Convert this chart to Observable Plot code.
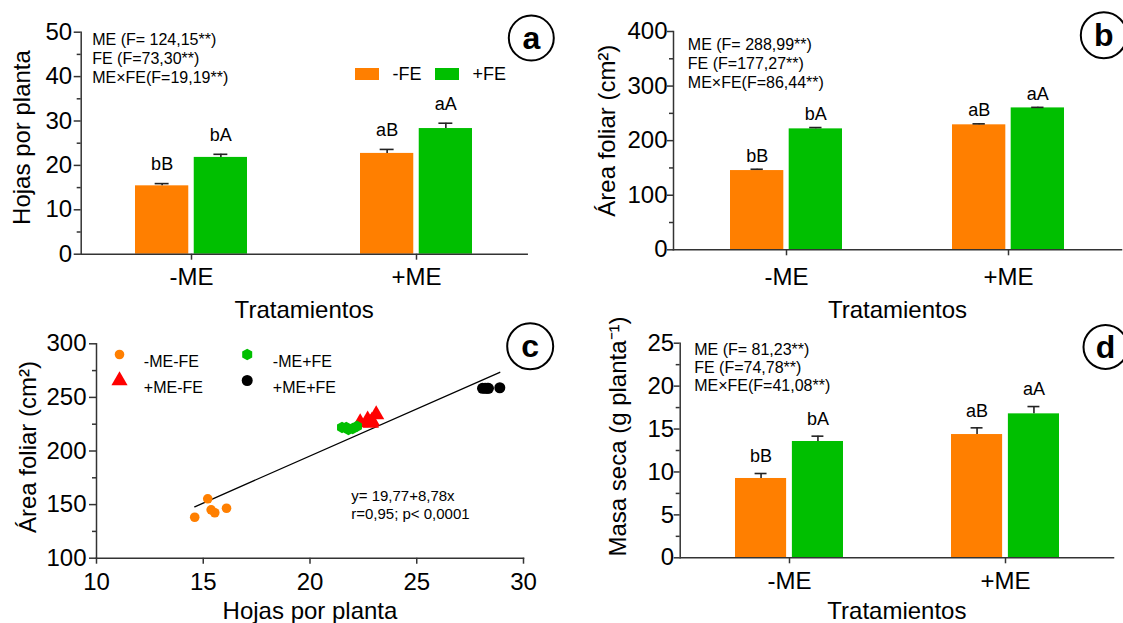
<!DOCTYPE html>
<html>
<head>
<meta charset="utf-8">
<script src="https://cdn.jsdelivr.net/npm/d3@7"></script>
<script src="https://cdn.jsdelivr.net/npm/@observablehq/plot@0.6"></script>
<style>
  html, body { margin: 0; padding: 0; background: #fff; }
  #root { position: relative; width: 1123px; height: 623px; overflow: hidden; background: #fff; font-family: "Liberation Sans", Arial, sans-serif; }
  #root svg { position: absolute; overflow: visible; }
  .lg { position: absolute; font-size: 18px; line-height: 18px; color: #000; white-space: nowrap; }
  .sw { position: absolute; width: 24px; height: 12px; }
</style>
</head>
<body>
<div id="root"></div>
<script>
// ---------------- data ----------------
const treatments = ["-ME", "+ME"];
const seriesNames = ["-FE", "+FE"];

// (a) Hojas por planta
const hojasMinusFE = [15.4, 22.7];
const hojasMinusFEse = [0.5, 0.9];
const hojasPlusFE = [21.8, 28.3];
const hojasPlusFEse = [0.7, 1.2];
const hojasStats = ["ME (F= 124,15**)", "FE (F=73,30**)", "ME×FE(F=19,19**)"];

// (b) Área foliar
const areaMinusFE = [145.2, 229.0];
const areaMinusFEse = [2.4, 1.8];
const areaPlusFE = [221.6, 260.0];
const areaPlusFEse = [2.4, 1.0];
const areaStats = ["ME (F= 288,99**)", "FE (F=177,27**)", "ME×FE(F=86,44**)"];

// (d) Masa seca
const masaMinusFE = [9.24, 14.36];
const masaMinusFEse = [0.58, 0.78];
const masaPlusFE = [13.55, 16.77];
const masaPlusFEse = [0.62, 0.85];
const masaStats = ["ME (F= 81,23**)", "FE (F=74,78**)", "ME×FE(F=41,08**)"];

// letters (same in a, b, d)
const lettersMinusFE = ["bB", "aB"];
const lettersPlusFE = ["bA", "aA"];

// (c) scatter: Hojas por planta vs Área foliar
const scatterNames = ["-ME-FE", "+ME-FE", "-ME+FE", "+ME+FE"];
const meMfeX = [14.6, 15.21, 15.37, 15.54, 16.09];
const meMfeY = [138.2, 155.4, 145.1, 142.4, 146.6];
const pmeMfeX = [22.35, 22.7, 22.85, 22.9, 23.1];
const pmeMfeY = [226.5, 229, 226, 228, 234];
const mePfeX = [21.5, 21.7, 21.8, 22.0, 22.2];
const mePfeY = [222, 222, 220, 221, 223];
const pmePfeX = [28.08, 28.2, 28.3, 28.36, 28.89];
const pmePfeY = [258.5, 258.5, 258.5, 258.5, 259];
const regression = [19.77, 8.78]; // intercept, slope
const regressionText = ["y= 19,77+8,78x", "r=0,95; p< 0,0001"];

const ticksA = [0, 10, 20, 30, 40, 50], minorA = [5, 15, 25, 35, 45];
const ticksB = [0, 100, 200, 300, 400], minorB = [50, 150, 250, 350];
const ticksD = [0, 5, 10, 15, 20, 25], minorD = [2.5, 7.5, 12.5, 17.5, 22.5];
const ticksCx = [10, 15, 20, 25, 30];
const ticksCy = [100, 150, 200, 250, 300], minorCy = [125, 175, 225, 275];

// ---------------- styles ----------------
const FONT = "'Liberation Sans', Arial, sans-serif";
const ORANGE = "#ff7f00", GREEN = "#00bf00", RED = "#ff0000", BLACK = "#000000";
const AX = "#333";

const root = document.getElementById("root");

function place(svg, left, top) {
  svg.style.left = left + "px";
  svg.style.top = top + "px";
  root.appendChild(svg);
}

function barPanel(o) {
  const table = treatments.map((t, i) => ({
    t, minus: o.minus[i], minusTop: o.minus[i] + o.minusSe[i],
    plus: o.plus[i], plusTop: o.plus[i] + o.plusSe[i],
    lm: lettersMinusFE[i], lp: lettersPlusFE[i]
  }));
  const pw = o.width - o.ml - o.mr;
  const step = pw / (treatments.length - o.padIn + 2 * o.padOut);
  const bw = step * (1 - o.padIn);
  const inset = (bw + o.gap) / 2;
  const off = (bw + o.gap) / 4;
  const capInset = bw / 2 - o.capW / 2;
  const eb = {stroke: "#222", strokeWidth: 1.6};
  return Plot.plot({
    width: o.width, height: o.height,
    marginTop: o.mt, marginRight: o.mr, marginBottom: o.mb, marginLeft: o.ml,
    style: {background: "transparent", overflow: "visible", fontFamily: FONT, color: "#000"},
    x: {type: "band", domain: treatments, paddingInner: o.padIn, paddingOuter: o.padOut, axis: null, label: null},
    y: {domain: o.yDomain, axis: null, label: null},
    marks: [
      Plot.barY(table, {x: "t", y: "minus", fill: ORANGE, insetRight: inset}),
      Plot.barY(table, {x: "t", y: "plus", fill: GREEN, insetLeft: inset}),
      Plot.ruleX(table, {x: "t", y1: "minus", y2: "minusTop", dx: -off, ...eb}),
      Plot.ruleX(table, {x: "t", y1: "plus", y2: "plusTop", dx: off, ...eb}),
      Plot.tickY(table, {x: "t", y: "minusTop", dx: -off, insetLeft: capInset, insetRight: capInset, ...eb}),
      Plot.tickY(table, {x: "t", y: "plusTop", dx: off, insetLeft: capInset, insetRight: capInset, ...eb}),
      Plot.text(table, {x: "t", y: "minusTop", text: "lm", dx: -off, dy: o.labelDy, fontSize: 18, lineAnchor: "middle"}),
      Plot.text(table, {x: "t", y: "plusTop", text: "lp", dx: off, dy: o.labelDy, fontSize: 18, lineAnchor: "middle"}),
      Plot.axisY({ticks: o.yTicks, tickSize: o.yTickSize, tickPadding: o.yTickPadding, fontSize: 24, label: null, stroke: AX, strokeWidth: 1.5}),
      Plot.axisY({ticks: o.yMinor, tickSize: 4, tickFormat: () => "", label: null, stroke: AX, strokeWidth: 1.5}),
      Plot.axisX({tickSize: 6, tickPadding: o.xTickPadding, fontSize: 24, label: null, stroke: AX, strokeWidth: 1.5}),
      Plot.frame({anchor: "left", stroke: AX, strokeWidth: 1.5}),
      Plot.frame({anchor: "bottom", stroke: AX, strokeWidth: 1.5}),
      Plot.text([o.stats.join("\n")], {frameAnchor: "top-left", textAnchor: "start", lineAnchor: "top", dx: o.statsDx, dy: o.statsDy, fontSize: 16, lineHeight: o.statsLH}),
      Plot.dot([o.letter], {frameAnchor: "top-right", dx: o.cDx, dy: o.cDy, r: o.cR, fill: "none", stroke: "#000", strokeWidth: 2}),
      Plot.text([o.letter], {frameAnchor: "top-right", textAnchor: "middle", dx: o.cDx, dy: o.cDy + 1, fontSize: 32, fontWeight: "bold", lineAnchor: "middle"}),
      Plot.text([o.yLabel], {frameAnchor: "left", rotate: -90, textAnchor: "middle", dx: o.yLabelDx, dy: o.yLabelDy, fontSize: 24, lineAnchor: "middle"}),
      Plot.text(["Tratamientos"], {frameAnchor: "bottom", textAnchor: "middle", dy: o.xTitleDy, fontSize: 24, lineAnchor: "middle"})
    ]
  });
}

// (a)
place(barPanel({
  width: 560, height: 330, ml: 80.7, mr: 33.3, mt: 31.7, mb: 76.3,
  yDomain: [0, 50], yTicks: ticksA, yMinor: minorA,
  minus: hojasMinusFE, minusSe: hojasMinusFEse, plus: hojasPlusFE, plusSe: hojasPlusFEse,
  padIn: 0.502, padOut: 0.242, gap: 5.4, capW: 14, labelDy: -19,
  yTickSize: 7, yTickPadding: 2, xTickPadding: 8,
  stats: hojasStats, statsDx: 11, statsDy: -1, statsLH: 1.2,
  letter: "a", cDx: 4.1, cDy: 5.8, cR: 22.5,
  yLabel: "Hojas por planta", yLabelDx: -59, yLabelDy: -5.7, xTitleDy: 56.3
}), 0, 0);

// (b)
place(barPanel({
  width: 562, height: 330, ml: 112, mr: 2, mt: 31, mb: 80.7,
  yDomain: [0, 400], yTicks: ticksB, yMinor: minorB,
  minus: areaMinusFE, minusSe: areaMinusFEse, plus: areaPlusFE, plusSe: areaPlusFEse,
  padIn: 0.497, padOut: 0.2575, gap: 5.7, capW: 12, labelDy: -13.5,
  yTickSize: 6, yTickPadding: 0, xTickPadding: 12,
  stats: areaStats, statsDx: 14.3, statsDy: 5.3, statsLH: 1.19,
  letter: "b", cDx: -17.7, cDy: 3.7, cR: 23,
  yLabel: "Área foliar (cm²)", yLabelDx: -66, yLabelDy: -10, xTitleDy: 60.7
}), 561, 0);

// (d)
place(barPanel({
  width: 562, height: 305, ml: 118.7, mr: 10, mt: 24.7, mb: 65.7,
  yDomain: [0, 25], yTicks: ticksD, yMinor: minorD,
  minus: masaMinusFE, minusSe: masaMinusFEse, plus: masaPlusFE, plusSe: masaPlusFEse,
  padIn: 0.502, padOut: 0.2494, gap: 5.7, capW: 12, labelDy: -17,
  yTickSize: 6, yTickPadding: 0, xTickPadding: 8,
  stats: masaStats, statsDx: 14, statsDy: -0.7, statsLH: 1.13,
  letter: "d", cDx: -8, cDy: 3.8, cR: 22,
  yLabel: "Masa seca (g planta⁻¹)", yLabelDx: -62, yLabelDy: -14, xTitleDy: 53.5
}), 561, 318);

// (c) scatter
const groupsX = [meMfeX, pmeMfeX, mePfeX, pmePfeX];
const groupsY = [meMfeY, pmeMfeY, mePfeY, pmePfeY];
const groupFill = [ORANGE, RED, GREEN, BLACK];
const groupSymbol = ["circle", "triangle", "hexagon", "circle"];
const groupR = [4.8, 6, 5, 5.5];
const points = [];
scatterNames.forEach((name, g) => groupsX[g].forEach((x, i) => points.push({g: name, x, y: groupsY[g][i]})));
const xExt = d3.extent(points, d => d.x);
const regLine = xExt.map(x => ({x, y: regression[0] + regression[1] * x}));

const legendPos = [[23, 10.7], [23, 36.7], [150.7, 10.7], [150.7, 36.7]];
const cMarks = [
  Plot.line(regLine, {x: "x", y: "y", stroke: "#000", strokeWidth: 1.3}),
  ...scatterNames.map((name, g) => Plot.dot(points.filter(d => d.g === name), {
    x: "x", y: "y", fill: groupFill[g], symbol: groupSymbol[g], r: groupR[g]
  })),
  ...scatterNames.map((name, g) => Plot.dot([name], {
    frameAnchor: "top-left", dx: legendPos[g][0], dy: legendPos[g][1], fill: groupFill[g], symbol: groupSymbol[g], r: groupR[g]
  })),
  Plot.text([scatterNames[0] + "\n" + scatterNames[1]], {frameAnchor: "top-left", textAnchor: "start", lineAnchor: "top", dx: 47.3, dy: 5, fontSize: 16, lineHeight: 1.625}),
  Plot.text([scatterNames[2] + "\n" + scatterNames[3]], {frameAnchor: "top-left", textAnchor: "start", lineAnchor: "top", dx: 176.3, dy: 5, fontSize: 16, lineHeight: 1.625}),
  Plot.text([regressionText.join("\n")], {frameAnchor: "top-left", textAnchor: "start", lineAnchor: "top", dx: 254.7, dy: 144.7, fontSize: 15, lineHeight: 1.18}),
  Plot.axisY({ticks: ticksCy, tickSize: 7, tickPadding: 3, fontSize: 24, label: null, stroke: AX, strokeWidth: 1.5}),
  Plot.axisY({ticks: minorCy, tickSize: 4, tickFormat: () => "", label: null, stroke: AX, strokeWidth: 1.5}),
  Plot.axisX({ticks: ticksCx, tickSize: 6, tickPadding: 9, fontSize: 24, label: null, stroke: AX, strokeWidth: 1.5}),
  Plot.frame({anchor: "left", stroke: AX, strokeWidth: 1.5}),
  Plot.frame({anchor: "bottom", stroke: AX, strokeWidth: 1.5}),
  Plot.dot(["c"], {frameAnchor: "top-right", dx: 6.7, dy: 2.4, r: 23, fill: "none", stroke: "#000", strokeWidth: 2}),
  Plot.text(["c"], {frameAnchor: "top-right", textAnchor: "middle", dx: 6.7, dy: 3.4, fontSize: 32, fontWeight: "bold", lineAnchor: "middle"}),
  Plot.text(["Área foliar (cm²)"], {frameAnchor: "left", rotate: -90, textAnchor: "middle", dx: -68.6, dy: -4, fontSize: 24, lineAnchor: "middle"}),
  Plot.text(["Hojas por planta"], {frameAnchor: "bottom", textAnchor: "middle", dy: 53.5, fontSize: 24, lineAnchor: "middle"})
];
place(Plot.plot({
  width: 560, height: 305, marginTop: 25.3, marginRight: 37, marginBottom: 65.3, marginLeft: 96,
  style: {background: "transparent", overflow: "visible", fontFamily: FONT, color: "#000"},
  x: {domain: [10, 30], axis: null, label: null},
  y: {domain: [100, 300], axis: null, label: null},
  marks: cMarks
}), 0, 318);

// legend for panel (a)
const legendColors = [ORANGE, GREEN];
const legendLeft = [355, 435];
seriesNames.forEach((name, i) => {
  const sw = document.createElement("div");
  sw.className = "sw";
  sw.style.left = legendLeft[i] + "px";
  sw.style.top = "68px";
  sw.style.background = legendColors[i];
  root.appendChild(sw);
  const tx = document.createElement("div");
  tx.className = "lg";
  tx.style.left = (legendLeft[i] + 37.5) + "px";
  tx.style.top = "65px";
  tx.textContent = name;
  root.appendChild(tx);
});
</script>
</body>
</html>
